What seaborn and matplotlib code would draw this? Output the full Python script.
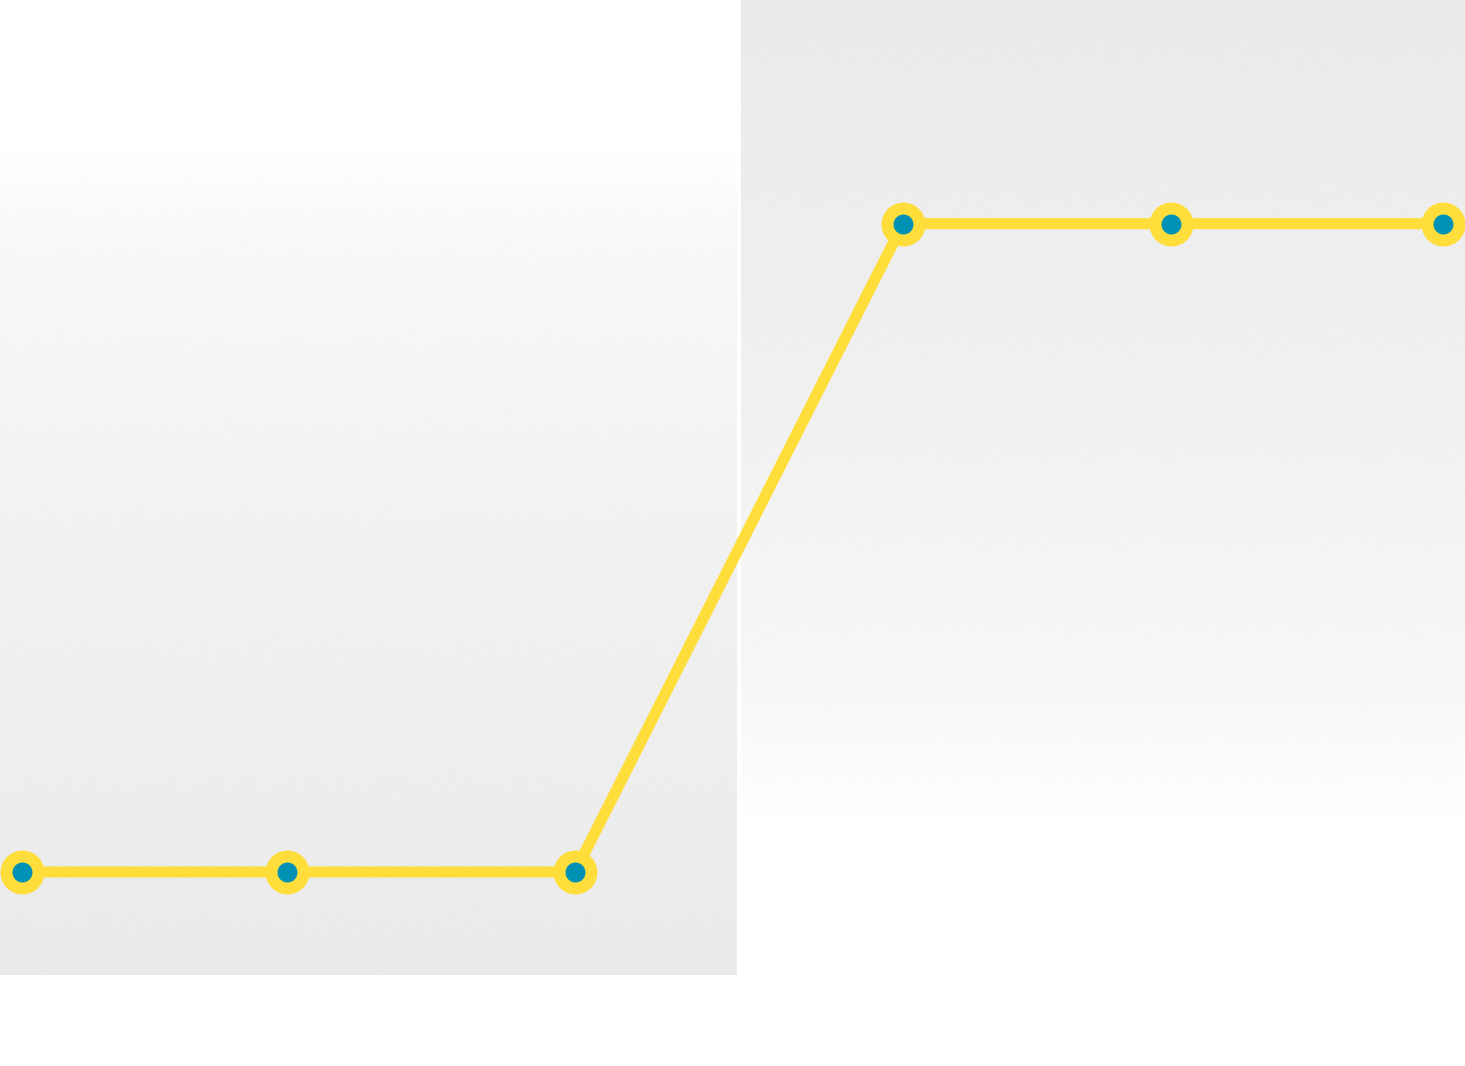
"""
Step line: two flat levels joined by one steep rise, on two gradient panels.

Output: out.png
"""

import matplotlib.pyplot as plt
import numpy as np
import pandas as pd
import seaborn as sns
from matplotlib.colors import LinearSegmentedColormap

W, H = 1465, 1066
DPI = 100

# series
x_pos = [22, 287, 575, 903, 1171, 1443]
level = [0, 0, 0, 1, 1, 1]

LINE = "#ffde3b"
DOT = "#0092b5"

# panels (pixel space of the picture): x0, x1, y_top, y_bottom
LEFT_PANEL = (0, 737, 150, 975)
RIGHT_PANEL = (741, W, 0, 820)


def gradient(ax, box, stops, seed):
    x0, x1, y0, y1 = box
    rows, cols = y1 - y0, x1 - x0
    cmap = LinearSegmentedColormap.from_list("g", stops)
    t = np.linspace(0, 1, rows)[:, None]
    rgb = cmap(np.repeat(t, cols, axis=1))[..., :3]
    rng = np.random.default_rng(seed)
    rgb = np.clip(rgb + rng.normal(0, 0.003, (rows, cols))[..., None], 0, 1)
    ax.imshow(rgb, extent=(x0, x1, y1, y0), aspect="auto",
              interpolation="nearest", zorder=0)


def main() -> None:
    sns.set_theme(style="white")
    fig = plt.figure(figsize=(W / DPI, H / DPI), dpi=DPI)

    bg = fig.add_axes([0, 0, 1, 1])
    bg.set_xlim(0, W)
    bg.set_ylim(H, 0)
    bg.axis("off")
    gradient(bg, LEFT_PANEL,
             [(0.0, "#ffffff"), (0.1, "#f9f9f9"), (0.45, "#f2f2f2"),
              (1.0, "#ebebeb")], 1)
    gradient(bg, RIGHT_PANEL,
             [(0.0, "#ebebeb"), (0.5, "#f1f1f1"), (0.85, "#f8f8f8"),
              (1.0, "#ffffff")], 2)

    ax = fig.add_axes([0, 0, 1, 1])
    ax.patch.set_alpha(0)
    df = pd.DataFrame({"x": x_pos, "level": level})
    sns.lineplot(data=df, x="x", y="level", color=LINE, linewidth=8,
                 marker="o", markersize=23, markerfacecolor=DOT,
                 markeredgecolor=LINE, markeredgewidth=8.6, ax=ax)
    ax.set_xlim(0, W)
    ax.set_ylim(-0.2993, 1.345)
    ax.axis("off")

    fig.savefig("out.png", dpi=DPI)
    plt.close(fig)


if __name__ == "__main__":
    main()
